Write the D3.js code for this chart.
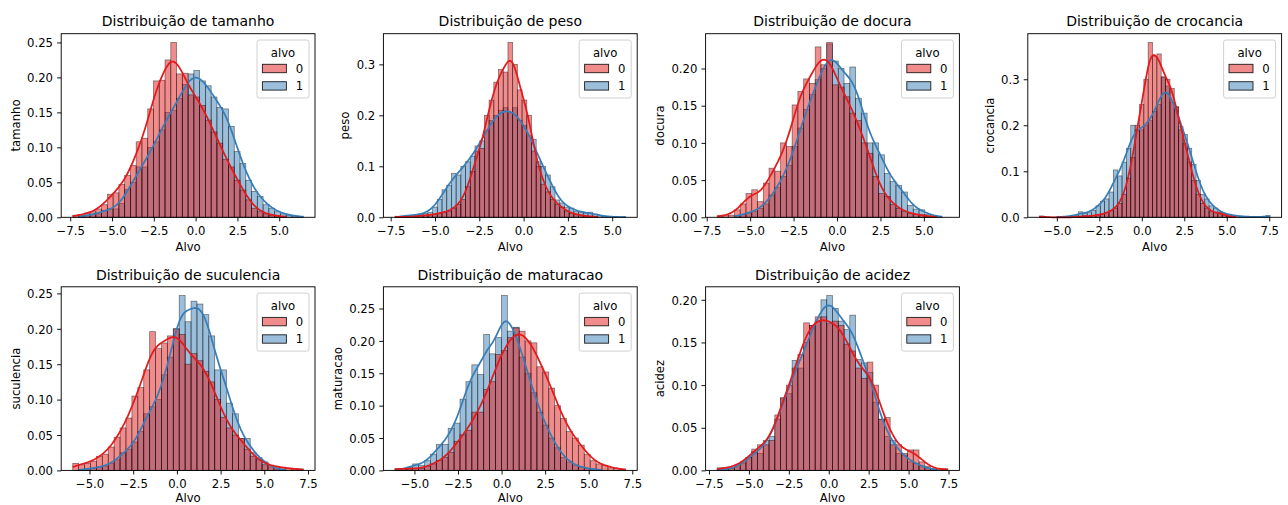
<!DOCTYPE html>
<html>
<head>
<meta charset="utf-8">
<script src="https://cdn.jsdelivr.net/npm/d3@7"></script>
<style>
  body { margin: 0; background: #fff; }
  text { font-family: "DejaVu Sans", sans-serif; }
</style>
</head>
<body>
<svg id="fig" width="1288" height="505"></svg>
<script>
// Feature names, one histogram panel each
const features = ["tamanho", "peso", "docura", "crocancia", "suculencia", "maturacao", "acidez"];

// Shared bin layout per feature (left edge of first bin, bin width)
const binStart = [-7.35, -7.26, -6.9, -6.03, -5.96, -6.12, -6.99];
const binWidth = [0.345, 0.2657, 0.332, 0.2562, 0.3385, 0.3395, 0.36125];

// Density per bin, alvo = 0 and alvo = 1
const tamanho0 = [0.003,0.003,0.006,0.008,0.012,0.018,0.033,0.035,0.047,0.060,
  0.074,0.108,0.113,0.155,0.195,0.196,0.225,0.250,0.205,0.206,
  0.175,0.172,0.160,0.139,0.122,0.106,0.083,0.072,0.053,0.039,
  0.025,0.013,0.008,0.005,0.003,0.002,0.001,0,0,0];
const tamanho1 = [0,0.001,0.003,0.004,0.005,0.010,0.012,0.012,0.020,0.040,
  0.050,0.072,0.072,0.100,0.108,0.125,0.150,0.153,0.170,0.190,
  0.205,0.210,0.195,0.188,0.172,0.157,0.155,0.130,0.094,0.077,
  0.053,0.037,0.030,0.018,0.013,0.008,0.005,0.003,0.002,0.001];

const peso0 = [0.002,0,0.002,0,0.002,0.003,0.004,0.005,0.006,0.008,
  0.010,0.012,0.018,0.025,0.035,0.060,0.090,0.130,0.135,0.200,
  0.230,0.265,0.290,0.285,0.343,0.300,0.250,0.230,0.200,0.130,
  0.100,0.065,0.050,0.035,0.025,0.020,0.012,0.008,0.006,0.004,
  0.002,0.002,0.001,0,0,0,0,0,0];
const peso1 = [0,0.002,0.004,0.004,0.004,0.006,0.008,0.010,0.020,0.035,
  0.054,0.063,0.086,0.083,0.100,0.109,0.120,0.140,0.150,0.170,
  0.190,0.200,0.210,0.215,0.205,0.215,0.190,0.180,0.160,0.153,
  0.109,0.100,0.083,0.060,0.034,0.028,0.020,0.018,0.012,0.010,
  0.008,0.010,0.006,0.003,0.002,0.001,0.001,0,0.001];

const docura0 = [0.002,0.003,0.003,0.010,0.018,0.032,0.037,0.021,0.046,0.066,
  0.062,0.100,0.095,0.151,0.169,0.186,0.180,0.229,0.205,0.235,
  0.178,0.175,0.162,0.140,0.130,0.100,0.086,0.055,0.032,0.028,
  0.017,0.012,0.008,0.005,0.004,0.003,0.001,0.001,0,0];
const docura1 = [0,0,0,0.002,0.004,0.006,0.008,0.012,0.018,0.030,
  0.040,0.055,0.070,0.095,0.120,0.145,0.165,0.185,0.200,0.233,
  0.210,0.200,0.180,0.202,0.160,0.140,0.100,0.100,0.084,0.059,
  0.048,0.043,0.034,0.016,0.011,0.010,0.004,0.002,0.001,0];

const crocancia0 = [0.003,0,0,0,0,0,0,0,0,0.002,
  0.003,0.002,0.004,0.005,0.007,0.010,0.014,0.020,0.030,0.050,
  0.085,0.130,0.200,0.245,0.300,0.380,0.350,0.355,0.305,0.300,
  0.280,0.240,0.190,0.160,0.120,0.080,0.050,0.030,0.020,0.012,
  0.010,0.010,0.005,0.002,0.001,0,0,0,0,0,
  0,0,0];
const crocancia1 = [0,0,0,0,0.001,0.001,0.002,0.002,0.004,0.012,
  0.008,0.010,0.015,0.025,0.035,0.040,0.055,0.103,0.090,0.120,
  0.150,0.200,0.190,0.190,0.200,0.210,0.230,0.245,0.305,0.285,
  0.250,0.240,0.197,0.180,0.150,0.115,0.080,0.050,0.040,0.025,
  0.020,0.012,0.008,0.006,0.004,0.003,0.002,0.001,0.001,0.001,
  0,0.001,0.004];

const suculencia0 = [0.010,0.008,0.010,0.013,0.020,0.023,0.033,0.047,0.060,0.074,
  0.105,0.117,0.142,0.196,0.172,0.180,0.190,0.200,0.192,0.150,
  0.165,0.155,0.140,0.125,0.100,0.075,0.060,0.050,0.045,0.030,
  0.020,0.015,0.008,0.007,0.005,0.004,0.003,0.002,0.002];
const suculencia1 = [0,0.001,0.002,0.003,0.005,0.006,0.010,0.015,0.025,0.030,
  0.040,0.055,0.080,0.090,0.100,0.135,0.160,0.200,0.247,0.210,
  0.239,0.235,0.220,0.190,0.142,0.142,0.095,0.080,0.045,0.045,
  0.025,0.018,0.012,0.005,0.002,0.001,0,0,0];

const maturacao0 = [0.003,0.003,0.002,0.003,0.003,0.006,0.010,0.015,0.020,0.028,
  0.045,0.055,0.062,0.090,0.090,0.125,0.137,0.179,0.185,0.205,
  0.220,0.215,0.200,0.197,0.160,0.152,0.127,0.100,0.080,0.060,
  0.050,0.039,0.025,0.015,0.010,0.008,0.004,0.003,0.002];
const maturacao1 = [0.001,0.002,0.005,0.010,0.008,0.015,0.025,0.040,0.040,0.065,
  0.073,0.110,0.137,0.163,0.148,0.210,0.180,0.205,0.270,0.215,
  0.221,0.175,0.150,0.120,0.090,0.070,0.050,0.035,0.020,0.013,
  0.008,0.005,0.003,0.002,0.001,0,0,0,0];

const acidez0 = [0.003,0.003,0.003,0.006,0.010,0.015,0.025,0.030,0.030,0.035,
  0.065,0.085,0.100,0.120,0.136,0.173,0.170,0.180,0.180,0.172,
  0.175,0.170,0.148,0.140,0.120,0.108,0.127,0.100,0.060,0.062,
  0.030,0.030,0.020,0.024,0.024,0.010,0.005,0.002,0.001,0.002];
const acidez1 = [0.001,0.001,0.002,0.004,0.008,0.015,0.022,0.020,0.035,0.040,
  0.060,0.085,0.090,0.129,0.120,0.150,0.170,0.175,0.200,0.205,
  0.190,0.175,0.165,0.182,0.130,0.126,0.115,0.080,0.060,0.040,
  0.035,0.020,0.018,0.010,0.008,0.005,0.002,0.001,0,0];

// Tick labels
const xTicksA = ["−7.5", "−5.0", "−2.5", "0.0", "2.5", "5.0"];
const xTicksB = ["−5.0", "−2.5", "0.0", "2.5", "5.0", "7.5"];
const xTicksC = ["−7.5", "−5.0", "−2.5", "0.0", "2.5", "5.0", "7.5"];
const yTicks25 = ["0.00", "0.05", "0.10", "0.15", "0.20", "0.25"];
const yTicks3 = ["0.0", "0.1", "0.2", "0.3"];
const yTicks20 = ["0.00", "0.05", "0.10", "0.15", "0.20"];

const hueLevels = ["0", "1"];
const hueColors = ["#e41a1c", "#377eb8"];
const classSize = 2000; // rows per class, used for the KDE bandwidth

const class0 = [tamanho0, peso0, docura0, crocancia0, suculencia0, maturacao0, acidez0];
const class1 = [tamanho1, peso1, docura1, crocancia1, suculencia1, maturacao1, acidez1];
const xTickSets = [xTicksA, xTicksA, xTicksA, xTicksB, xTicksB, xTicksB, xTicksC];
const yTickSets = [yTicks25, yTicks3, yTicks20, yTicks3, yTicks25, yTicks25, yTicks20];

const num = s => +s.replace("−", "-");

// Gaussian KDE over the binned densities (Scott bandwidth), area equal to the bars
function kdeCurve(dens, lo, w) {
  const pts = dens.map((d, i) => ({ c: lo + (i + 0.5) * w, m: d * w }));
  const W = d3.sum(pts, p => p.m);
  const mean = d3.sum(pts, p => p.m * p.c) / W;
  const sd = Math.sqrt(d3.sum(pts, p => p.m * (p.c - mean) ** 2) / W);
  const bw = sd * Math.pow(classSize, -0.2);
  const first = dens.findIndex(d => d > 0);
  const last = dens.length - 1 - [...dens].reverse().findIndex(d => d > 0);
  const a = lo + first * w, b = lo + (last + 1) * w;
  const norm = bw * Math.sqrt(2 * Math.PI);
  return d3.range(200).map(j => {
    const xv = a + (b - a) * j / 199;
    const yv = d3.sum(pts, p => p.m * Math.exp(-0.5 * ((xv - p.c) / bw) ** 2)) / norm;
    return [xv, yv];
  });
}

const svg = d3.select("#fig");
svg.append("rect").attr("width", 1288).attr("height", 505).attr("fill", "#fff");

const FS = 11.67;
const axW = 253.8, axH = 183.6;
const colLeft = [61.2, 383.4, 705.6, 1027.8];
const rowTop = [33.7, 286.8];

features.forEach((name, k) => {
  const ox = colLeft[k % 4], oy = rowTop[Math.floor(k / 4)];
  const g = svg.append("g").attr("transform", `translate(${ox},${oy})`);
  const series = [class0[k], class1[k]];
  const n = series[0].length;
  const lo = binStart[k], w = binWidth[k], hi = lo + n * w;
  const pad = 0.05 * (hi - lo);
  const x = d3.scaleLinear().domain([lo - pad, hi + pad]).range([0, axW]);
  const curves = series.map(s => kdeCurve(s, lo, w));
  const ymax = Math.max(d3.max(series.flat()), d3.max(curves.flat(), p => p[1]));
  const y = d3.scaleLinear().domain([0, ymax * 1.05]).range([axH, 0]);

  // bars: alvo 1 underneath, alvo 0 on top
  [1, 0].forEach(c => {
    g.append("g").selectAll("rect").data(series[c]).join("rect")
      .attr("x", (d, i) => x(lo + i * w))
      .attr("width", x(lo + w) - x(lo))
      .attr("y", d => y(d))
      .attr("height", d => axH - y(d))
      .attr("fill", hueColors[c]).attr("fill-opacity", 0.5)
      .attr("stroke", "#000").attr("stroke-opacity", 0.5).attr("stroke-width", 0.75);
  });

  // density curves
  const line = d3.line().x(p => x(p[0])).y(p => y(p[1]));
  [1, 0].forEach(c => {
    g.append("path").datum(curves[c]).attr("d", line)
      .attr("fill", "none").attr("stroke", hueColors[c]).attr("stroke-width", 1.75)
      .attr("stroke-linejoin", "round");
  });

  // x axis
  const xl = xTickSets[k];
  const gx = g.append("g").attr("transform", `translate(0,${axH})`)
    .call(d3.axisBottom(x).tickValues(xl.map(num)).tickFormat((d, i) => xl[i])
      .tickSize(4.1).tickPadding(4.1).tickSizeOuter(0));
  gx.attr("font-family", null).attr("font-size", null);
  gx.select(".domain").remove();
  gx.selectAll("line").attr("stroke", "#000").attr("stroke-width", 0.93);
  gx.selectAll("text").attr("fill", "#000").attr("font-size", FS).attr("dy", "0.81em");

  // y axis
  const yl = yTickSets[k];
  const gy = g.append("g")
    .call(d3.axisLeft(y).tickValues(yl.map(num)).tickFormat((d, i) => yl[i])
      .tickSize(4.1).tickPadding(4.1).tickSizeOuter(0));
  gy.attr("font-family", null).attr("font-size", null);
  gy.select(".domain").remove();
  gy.selectAll("line").attr("stroke", "#000").attr("stroke-width", 0.93);
  gy.selectAll("text").attr("fill", "#000").attr("font-size", FS).attr("dy", "0.36em");

  // frame
  g.append("rect").attr("width", axW).attr("height", axH)
    .attr("fill", "none").attr("stroke", "#000").attr("stroke-width", 0.93);

  // labels
  g.append("text").attr("x", axW / 2).attr("y", -7.3).attr("text-anchor", "middle")
    .attr("font-size", 14).attr("fill", "#000").text("Distribuição de " + name);
  g.append("text").attr("x", axW / 2).attr("y", Math.min(axH + 34, 505 - oy - 3.4))
    .attr("text-anchor", "middle").attr("font-size", FS).attr("fill", "#000").text("Alvo");
  const tickLeft = gy.node().getBBox().x;
  const yb = tickLeft - 4.7 - 2.75;
  g.append("text").attr("transform", `translate(${yb},${axH / 2}) rotate(-90)`)
    .attr("text-anchor", "middle").attr("font-size", FS).attr("fill", "#000").text(name);

  // legend
  const lg = g.append("g").attr("transform", `translate(${axW - 6 - 52},6.3)`);
  lg.append("rect").attr("width", 52).attr("height", 58).attr("rx", 2.3)
    .attr("fill", "#fff").attr("fill-opacity", 0.8).attr("stroke", "#cccccc").attr("stroke-width", 0.93);
  lg.append("text").attr("x", 26).attr("y", 16.5).attr("text-anchor", "middle")
    .attr("font-size", FS).attr("fill", "#000").text("alvo");
  hueLevels.forEach((lab, i) => {
    lg.append("rect").attr("x", 5.4).attr("y", 24.3 + 17.4 * i).attr("width", 24).attr("height", 8.4)
      .attr("fill", hueColors[i]).attr("fill-opacity", 0.5)
      .attr("stroke", "#000").attr("stroke-opacity", 0.85).attr("stroke-width", 0.93);
    lg.append("text").attr("x", 38.7).attr("y", 32.8 + 17.4 * i)
      .attr("font-size", FS).attr("fill", "#000").text(lab);
  });
});
</script>
</body>
</html>
